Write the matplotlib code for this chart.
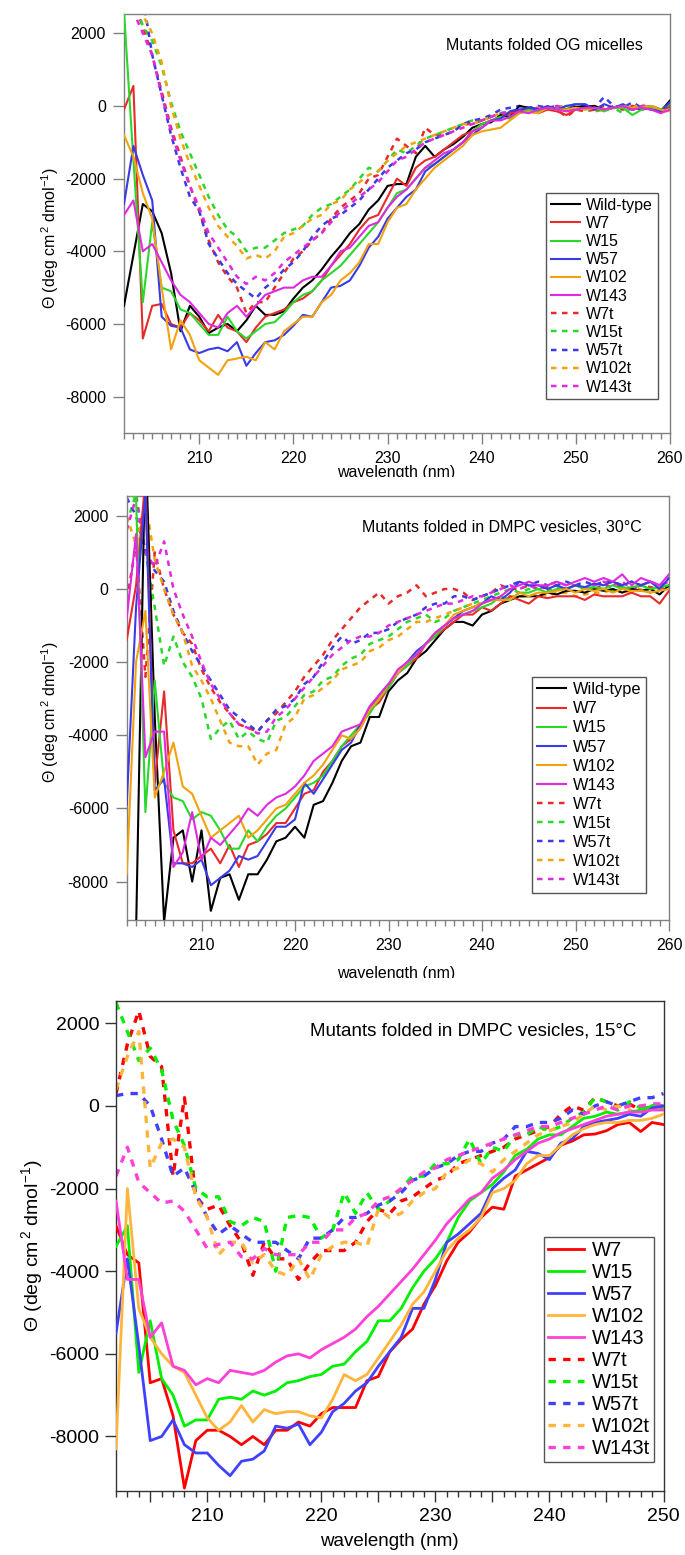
import matplotlib.pyplot as plt
import numpy as np
from matplotlib.patches import Rectangle
from matplotlib.ticker import MultipleLocator, FuncFormatter

plt.rcParams['font.family'] = ['Liberation Sans', 'DejaVu Sans']
plt.rcParams['mathtext.fontset'] = 'custom'
plt.rcParams['mathtext.rm'] = 'Liberation Sans'
plt.rcParams['mathtext.it'] = 'Liberation Sans:italic'
plt.rcParams['axes.unicode_minus'] = False

wl_a = np.arange(202, 261)   # panels 1 and 2
wl_b = np.arange(202, 251)   # panel 3

labels_a = ['Wild-type', 'W7', 'W15', 'W57', 'W102', 'W143',
            'W7t', 'W15t', 'W57t', 'W102t', 'W143t']
labels_b = labels_a[1:]

# ---- panel 1: OG micelles ----
og_wt = [-5500, -4100, -2700, -2900, -3500, -4600, -6200, -5500, -5800, -6250,
         -6100, -6000, -6200, -5900, -5500, -5750, -5750, -5650, -5300, -5000,
         -4800, -4500, -4150, -3850, -3500, -3250, -2850, -2600, -2200, -2150,
         -2150, -1400, -1100, -1400, -1200, -1050, -850, -600, -500, -450,
         -250, -300, 0, -50, -100, -50, -100, -100, -20, -20,
         0, -100, -50, -20, -50, -100, -50, -150, 150]
og_w7 = [-100, 550, -6400, -5500, -5450, -6000, -6100, -5700, -5900, -6200,
         -5750, -6100, -6200, -6500, -6100, -5800, -5700, -5600, -5400, -5300,
         -5100, -4800, -4400, -4100, -3800, -3400, -3100, -3000, -2500, -2000,
         -2200, -1700, -1500, -1400, -1200, -1000, -800, -700, -500, -400,
         -300, -200, -150, -100, -200, -100, -150, -250, -100, -50,
         -100, -100, -50, 0, -100, -50, -100, -150, 0]
og_w15 = [2600, -1500, -5400, -3200, -5000, -5100, -5600, -5700, -6000, -6300,
          -6300, -5800, -6200, -6400, -6200, -6000, -5950, -5700, -5400, -5200,
          -5100, -4800, -4600, -4400, -4100, -3800, -3500, -3200, -2800, -2400,
          -2300, -2000, -1700, -1600, -1400, -1200, -1000, -700, -500, -400,
          -300, -350, -200, -100, -150, -50, -100, -100, -50, -100,
          -50, -150, -50, -50, -250, -100, -50, -100, 50]
og_w57 = [-2700, -1100, -1900, -2600, -5800, -6050, -6100, -6700, -6800, -6700,
          -6650, -6750, -6500, -7150, -6800, -6500, -6450, -6300, -6050, -5750,
          -5800, -5400, -5000, -4950, -4800, -4400, -3900, -3600, -3100, -2800,
          -2500, -2300, -1800, -1600, -1400, -1200, -1000, -800, -600, -400,
          -350, -150, -100, -50, -100, 0, -100, 0, 50, 50,
          -100, 50, -50, 50, -100, -50, -100, -150, 100]
og_w102 = [-800, -1400, -2400, -3100, -5000, -6700, -5900, -6300, -7000, -7200,
           -7400, -7000, -6950, -6900, -7000, -6500, -6700, -6200, -6000, -5800,
           -5800, -5400, -5200, -4800, -4600, -4300, -3800, -3800, -3200, -2800,
           -2700, -2300, -2000, -1700, -1500, -1300, -1100, -800, -700, -650,
           -600, -400, -200, -150, -200, -50, -100, -100, -50, -100,
           -50, -100, -50, 0, -50, -50, 0, -100, -150]
og_w143 = [-3000, -2600, -4000, -3800, -4300, -4800, -5200, -5400, -5700, -6000,
           -6100, -5700, -5500, -5800, -5500, -5200, -5100, -5000, -5000, -4800,
           -4700, -4700, -4400, -4000, -3900, -3600, -3300, -3200, -2800, -2500,
           -2300, -2000, -1700, -1500, -1300, -1200, -1000, -700, -600, -400,
           -400, -300, -150, -200, -100, -50, -100, -150, -100, -50,
           -50, -100, -50, 0, -100, -50, -100, -200, -100]
og_w7t = [3500, 2800, 2200, 1400, 400, -600, -1400, -2200, -2900, -3700,
          -4300, -4700, -5000, -5700, -5400, -5400, -5000, -4600, -4200, -4000,
          -3700, -3500, -3100, -2800, -2600, -2400, -2000, -1900, -1400, -900,
          -1100, -1300, -600, -800, -800, -700, -500, -500, -400, -300,
          -300, -200, -150, -150, -200, -50, -100, -300, -100, -150,
          -100, 0, -50, -100, 0, -50, 0, -100, 0]
og_w15t = [3500, 3000, 2200, 1800, 1100, 100, -700, -1300, -1900, -2500,
           -3000, -3400, -3600, -4000, -3900, -3900, -3700, -3500, -3400, -3300,
           -3000, -2800, -2700, -2500, -2300, -2000, -1700, -1800, -1500, -1200,
           -1300, -1100, -900, -800, -700, -600, -500, -400, -400, -300,
           -200, -150, -100, -100, -50, -100, -50, 0, -100, -50,
           -150, -100, -50, -200, -50, -100, -50, -150, -50]
og_w57t = [4500, 4000, 3000, 1400, 300, -800, -1700, -2500, -2900, -3800,
           -4200, -4600, -4900, -5100, -5300, -5000, -4800, -4500, -4300, -4000,
           -3600, -3300, -3100, -3000, -2800, -2600, -2300, -2000, -1700, -1500,
           -1300, -1200, -1000, -900, -800, -700, -500, -400, -350, -250,
           -100, -50, 0, -50, 0, -50, 0, -50, 50, 0,
           -50, 250, 0, -50, 100, -50, 0, -100, 0]
og_w102t = [3500, 3000, 2500, 2000, 1200, 0, -900, -1600, -2200, -2800,
            -3300, -3600, -3850, -4200, -4100, -4200, -4000, -3600, -3500, -3300,
            -3100, -3000, -2700, -2600, -2300, -2100, -1900, -1800, -1500, -1300,
            -1100, -1000, -900, -800, -700, -600, -500, -500, -400, -300,
            -200, -200, -100, -100, -50, -100, 0, -50, -100, -50,
            0, -100, -50, 0, -50, 50, -100, -50, -200]
og_w143t = [3500, 2600, 2000, 1400, 300, -700, -1500, -2200, -2800, -3500,
            -3900, -4300, -4700, -4900, -4700, -4800, -4600, -4300, -4100, -3900,
            -3700, -3500, -3200, -2900, -2700, -2500, -2300, -2100, -1800, -1500,
            -1400, -1200, -1000, -900, -800, -700, -600, -500, -400, -300,
            -200, -150, -100, -100, -50, -50, 0, -100, -50, 0,
            -50, -100, 0, -50, -100, 0, -50, -150, -100]

# ---- panel 2: DMPC vesicles, 30 C ----
d30_wt = [-16000, -9400, 4000, -3500, -9100, -6800, -6600, -8000, -6600, -8800,
          -7900, -7800, -8500, -7800, -7800, -7400, -6900, -6800, -6500, -6800,
          -5900, -5800, -5300, -4700, -4300, -4200, -3500, -3500, -2800, -2500,
          -2300, -1900, -1700, -1400, -1100, -900, -900, -1000, -700, -600,
          -400, -300, -200, -200, -200, -100, -150, -50, -50, -100,
          0, -50, 0, -100, 0, -50, 0, -150, 100]
d30_w7 = [-1400, 100, 3000, -5300, -2800, -6600, -7500, -7500, -7300, -7100,
          -7500, -7000, -7600, -7000, -6900, -6700, -6400, -6400, -6000, -5600,
          -5500, -5000, -4700, -4300, -4100, -3800, -3300, -3100, -2700, -2300,
          -2100, -1900, -1500, -1300, -1100, -900, -700, -700, -500, -600,
          -400, -200, -300, -400, -200, -250, -200, -200, -200, -300,
          -150, -200, -200, -200, -100, -200, -200, -400, -50]
d30_w15 = [2600, 2500, -6100, -2500, -5300, -5700, -5800, -6300, -6100, -6200,
           -6600, -7100, -7100, -6600, -6900, -6500, -6200, -6000, -5700, -5400,
           -5300, -5100, -4700, -4300, -4000, -3700, -3400, -3000, -2700, -2300,
           -2100, -1800, -1500, -1300, -1000, -800, -700, -600, -500, -400,
           -200, -300, -100, -100, 0, -100, 0, 0, 100, 0,
           50, 0, 100, 0, 50, 100, 0, 50, 100]
d30_w57 = [-5900, -500, 2600, -5500, -5200, -7500, -7500, -7600, -7400, -8100,
           -7900, -7700, -7300, -7400, -7300, -6900, -6500, -6500, -6300, -5300,
           -5600, -5200, -4800, -4400, -4200, -3700, -3300, -2900, -2600, -2300,
           -2000, -1700, -1500, -1200, -1000, -800, -600, -500, -400, -200,
           -300, -100, 200, 100, 100, 0, 100, 0, 100, 50,
           150, 100, 200, 100, 200, 100, 200, 0, 300]
d30_w102 = [-7800, -2000, -600, -5700, -5000, -4200, -5400, -5600, -6200, -6800,
            -6600, -6400, -6200, -6800, -6600, -6300, -6000, -5900, -5600, -5300,
            -5100, -4800, -4400, -4000, -4100, -3800, -3300, -3000, -2600, -2300,
            -2000, -1800, -1500, -1200, -1000, -700, -600, -500, -400, -300,
            -300, -300, -100, -200, -100, -100, -50, 0, -100, 0,
            -50, 0, -100, 0, -50, -50, -100, -50, 0]
d30_w143 = [-800, 1500, -4600, -3900, -3900, -7600, -7200, -6100, -7400, -6800,
            -7000, -6700, -6400, -6000, -6200, -5900, -5700, -5600, -5400, -5100,
            -4700, -4500, -4300, -3900, -3800, -3700, -3200, -2900, -2600, -2200,
            -2000, -1800, -1500, -1200, -1000, -800, -700, -600, -400, -300,
            -200, 0, 100, 200, 100, 100, 200, 100, 200, 300,
            200, 300, 200, 400, 100, 300, 200, 100, 400]
d30_w7t = [-300, 1200, -2400, 1000, 0, -700, -1200, -1500, -2200, -2700,
           -3100, -3400, -3700, -3800, -3900, -3600, -3400, -3100, -2800, -2400,
           -2100, -1800, -1400, -1100, -800, -500, -300, -100, -400, -200,
           -100, 100, -200, -100, 0, 0, -100, -300, -200, -100,
           100, 0, 0, 100, 0, 50, 100, 0, 100, 50,
           0, 100, 50, 100, 0, 100, 50, 0, 100]
d30_w15t = [1800, 2600, 1000, -500, -2100, -1300, -2000, -2400, -3000, -4100,
            -3800, -3600, -4100, -3900, -4100, -4200, -3600, -3500, -3200, -2900,
            -2800, -2500, -2400, -2100, -1900, -1800, -1500, -1400, -1300, -1100,
            -900, -800, -700, -900, -800, -600, -500, -400, -300, -200,
            -100, 0, -100, 0, 0, -50, 50, 0, 100, 0,
            50, 0, -50, 50, 0, 100, 0, 50, 100]
d30_w57t = [2500, 2000, 1000, 500, 200, -600, -1200, -1700, -2100, -2500,
            -2900, -3300, -3500, -3700, -3900, -3600, -3300, -3200, -3000, -2600,
            -2400, -2000, -1600, -1300, -1500, -1400, -1200, -1200, -1100, -900,
            -800, -700, -500, -400, -400, -200, -200, -300, -200, -100,
            0, 100, 200, 100, 200, 100, 100, 200, 100, 200,
            100, 200, 200, 100, 200, 100, 200, 100, 300]
d30_w102t = [2000, 1200, 2400, 800, 0, -700, -1200, -2100, -2500, -3000,
             -3600, -4200, -4300, -4300, -4800, -4500, -4400, -3700, -3500, -3000,
             -2900, -2700, -2500, -2200, -2100, -2000, -1700, -1600, -1400, -1300,
             -1100, -900, -900, -800, -700, -600, -500, -400, -400, -300,
             -300, -200, -200, -200, -100, -200, -100, -100, -200, -150,
             -100, -100, 0, -100, -50, 0, -100, 0, 50]
d30_w143t = [1600, 2500, 1000, 600, 1300, 0, -700, -1300, -2000, -2600,
             -3000, -3400, -3700, -3800, -3950, -3900, -3500, -3300, -3000, -2700,
             -2400, -2100, -1800, -1600, -1400, -1300, -1300, -1200, -1000, -900,
             -800, -700, -600, -500, -400, -400, -300, -200, -200, -100,
             0, 100, 0, 100, 0, 100, 200, 100, 100, 0,
             100, 200, 100, 200, 0, 100, 200, 100, 200]

# ---- panel 3: DMPC vesicles, 15 C ----
d15_w7 = [-2900, -3600, -3800, -6700, -6600, -7500, -9250, -8100, -7850, -7850,
          -8000, -8200, -8000, -8200, -7850, -7850, -7650, -7750, -7450, -7300,
          -7300, -7300, -6650, -6550, -5950, -5650, -5400, -4800, -4350, -3750,
          -3300, -3050, -2700, -2450, -2500, -1700, -1550, -1400, -1250, -950,
          -850, -700, -680, -600, -450, -400, -620, -400, -450]
d15_w15 = [-3400, -2900, -6450, -5200, -6600, -7000, -7750, -7600, -7600, -7100,
           -7050, -7100, -6900, -7000, -6900, -6700, -6650, -6550, -6500, -6300,
           -6250, -5950, -5700, -5200, -5200, -4900, -4400, -4000, -3700, -3300,
           -2700, -2300, -2100, -1900, -1600, -1200, -1050, -800, -700, -700,
           -500, -300, -250, -150, -200, -150, -100, 0, -50]
d15_w57 = [-5500, -3700, -5800, -8100, -8000, -7600, -8200, -8400, -8400, -8700,
           -8950, -8600, -8550, -8350, -7750, -7800, -7700, -8200, -7900, -7400,
           -7200, -6900, -6700, -6300, -5950, -5600, -4900, -4900, -4200, -3300,
           -3100, -2850, -2600, -2000, -1750, -1550, -1100, -1150, -1300, -900,
           -800, -500, -400, -350, -300, -200, -250, -50, 0]
d15_w102 = [-8300, -2000, -4900, -5600, -6000, -6300, -6450, -7000, -7550, -7850,
            -7650, -7250, -7650, -7350, -7450, -7400, -7400, -7500, -7550, -7100,
            -6500, -6650, -6500, -6100, -5700, -5300, -4800, -4500, -4000, -3500,
            -3200, -3000, -2700, -2100, -2000, -1800, -1400, -1200, -1200, -950,
            -700, -550, -450, -400, -400, -350, -350, -300, -200]
d15_w143 = [-2300, -4200, -4200, -5600, -5250, -6300, -6400, -6750, -6600, -6700,
            -6400, -6450, -6500, -6400, -6200, -6050, -6000, -6100, -5900, -5750,
            -5600, -5400, -5100, -4850, -4550, -4250, -3950, -3600, -3250, -2850,
            -2550, -2250, -2100, -1750, -1550, -1300, -1100, -900, -800, -650,
            -550, -450, -350, -250, -200, -150, -150, -100, -100]
d15_w7t = [300, 1500, 2300, 1200, 950, -1700, 200, -2200, -2500, -2400,
           -2900, -3300, -4100, -3300, -3700, -3700, -4200, -3800, -3500, -3500,
           -3500, -3300, -2800, -2500, -2600, -2300, -2200, -2000, -1800, -1700,
           -1400, -1300, -1200, -1100, -1000, -800, -700, -600, -500, -200,
           0, -100, 200, 100, 0, 50, -100, 0, 0]
d15_w15t = [2500, 1800, 1100, 1400, 870, -340, -960, -2000, -2200, -2200,
            -2800, -2900, -2700, -2800, -4000, -2700, -2650, -2700, -3200, -3000,
            -2100, -2600, -2100, -2500, -2300, -2000, -1700, -1700, -1400, -1400,
            -1300, -800, -1400, -1000, -1100, -700, -700, -500, -600, -500,
            -300, -150, 200, 100, -100, 100, -50, 0, 0]
d15_w57t = [250, 300, 300, 0, -800, -1700, -1500, -2100, -2700, -3100,
            -2900, -3100, -3300, -3300, -3300, -3500, -3700, -3200, -3200, -3000,
            -2700, -2700, -2600, -2400, -2300, -2100, -1800, -1700, -1500, -1400,
            -1200, -1100, -1100, -900, -800, -500, -500, -400, -400, -300,
            -100, -200, 0, 100, 0, 100, 200, 200, 300]
d15_w102t = [400, 1200, 1800, -1500, -900, -800, -1000, -2200, -2700, -3600,
             -3300, -3300, -3800, -3600, -4000, -4100, -3700, -4200, -3600, -3400,
             -3300, -3300, -3400, -2500, -2700, -2600, -2300, -2100, -2000, -1600,
             -1500, -1300, -1400, -1600, -1300, -1100, -900, -700, -600, -500,
             -400, -200, 0, -100, 0, -100, -200, -50, 0]
d15_w143t = [-1700, -1000, -1850, -2100, -2350, -2300, -2550, -3000, -3450, -3350,
             -3300, -3650, -3700, -3450, -3600, -3600, -3600, -3300, -3300, -3000,
             -3000, -2700, -2600, -2300, -2200, -2000, -1800, -1600, -1500, -1300,
             -1200, -1100, -1000, -900, -800, -700, -600, -500, -500, -400,
             -300, -200, -100, 0, -100, 0, 0, 50, 50]

cols_a = ['black', '#e82a2a', '#2ad82a', '#3a3ae8', '#f2a20c', '#e02ae0']
cols_b = ['#ff0000', '#00f000', '#4040ff', '#ffb43c', '#ff40d8']

W, H = 685, 1555
fig = plt.figure(figsize=(W / 100, H / 100), dpi=100)
ylab = 'Θ (deg cm$^{\\,2}$ dmol$^{-1}$)'


def panel(rect, wl, data, labels, cols, ylim, xlim, title, fs, lw, spine,
          leg_xy, leg_kw, step5, tick_fs):
    l, t, r, b = rect
    ax = fig.add_axes([l / W, 1 - b / H, (r - l) / W, (b - t) / H])
    n_solid = len(cols)
    handles = []
    for i, (lab, y) in enumerate(zip(labels, data)):
        if i < n_solid:
            c, ls, z, w = cols[i], '-', 3, lw
        else:
            c, ls, z, w = cols[i - n_solid + (len(cols) - 5)], (0, (2.2, 2.2)), 2, lw * 1.2
        h, = ax.plot(wl, y, color=c, lw=w, ls=ls, zorder=z, label=lab)
        handles.append(h)
    ax.set_xlim(*xlim)
    ax.set_ylim(*ylim)
    ax.set_yticks([2000, 0, -2000, -4000, -6000, -8000])
    if step5:
        ax.xaxis.set_major_locator(MultipleLocator(5))
        ax.xaxis.set_major_formatter(
            FuncFormatter(lambda v, p: '%d' % v if v % 10 == 0 else ''))
    else:
        ax.xaxis.set_major_locator(MultipleLocator(10))
    ax.xaxis.set_minor_locator(MultipleLocator(1))
    for s in ax.spines.values():
        s.set_color(spine)
        s.set_linewidth(1.0)
    ax.tick_params(axis='both', which='major', direction='out', color=spine,
                   length=8, width=1, labelsize=tick_fs, pad=leg_kw.pop('pad'))
    ax.tick_params(axis='x', which='minor', direction='out', color=spine,
                   length=4.5, width=1)
    ax.tick_params(top=False, right=False)
    ax.text(0.95, 0.925 if not step5 else 0.938, title, transform=ax.transAxes,
            ha='right', va='center', fontsize=fs)
    leg = ax.legend(handles=handles, loc='upper left', bbox_to_anchor=leg_xy,
                    borderaxespad=0, fancybox=False, framealpha=1,
                    edgecolor='#555555', fontsize=fs + leg_kw.pop('dfs', 0),
                    **leg_kw)
    leg.get_frame().set_linewidth(1.0)
    return ax


a1 = panel((124, 14, 670, 433), wl_a,
           [og_wt, og_w7, og_w15, og_w57, og_w102, og_w143,
            og_w7t, og_w15t, og_w57t, og_w102t, og_w143t],
           labels_a, cols_a, (-9000, 2530), (202, 260),
           'Mutants folded OG micelles', 11.5, 1.5, '#808080', (0.773, 0.573),
           dict(pad=5, labelspacing=0.2, handlelength=1.8, handletextpad=0.4,
                borderpad=0.3), False, 11.5)
a2 = panel((126.7, 495.7, 669, 920), wl_a,
           [d30_wt, d30_w7, d30_w15, d30_w57, d30_w102, d30_w143,
            d30_w7t, d30_w15t, d30_w57t, d30_w102t, d30_w143t],
           labels_a, cols_a, (-9050, 2550), (202, 260),
           'Mutants folded in DMPC vesicles, 30°C', 11.5, 1.5, '#808080',
           (0.747, 0.572),
           dict(pad=5, labelspacing=0.25, handlelength=1.8, handletextpad=0.4,
                borderpad=0.3, dfs=0.3), False, 11.5)
a3 = panel((116, 1001, 663.5, 1491), wl_b,
           [d15_w7, d15_w15, d15_w57, d15_w102, d15_w143,
            d15_w7t, d15_w15t, d15_w57t, d15_w102t, d15_w143t],
           labels_b, cols_b, (-9320, 2540), (202, 250),
           'Mutants folded in DMPC vesicles, 15°C', 13.5, 2.0, '#333333',
           (0.782, 0.518),
           dict(pad=4, labelspacing=0.15, handlelength=1.8, handletextpad=0.35,
                borderpad=0.2, dfs=1.0), True, 14)

# axis titles placed as figure text
fig.text(50 / W, 1 - 238 / H, ylab, rotation=90, ha='center', va='center', fontsize=11.5)
fig.text(50 / W, 1 - 712 / H, ylab, rotation=90, ha='center', va='center', fontsize=11.5)
fig.text(32 / W, 1 - 1246 / H, ylab, rotation=90, ha='center', va='center', fontsize=14)
fig.text(396 / W, 1 - 473 / H, 'wavelength (nm)', ha='center', va='center', fontsize=11.5)
fig.text(396 / W, 1 - 973 / H, 'wavelength (nm)', ha='center', va='center', fontsize=11.5)
fig.text(389 / W, 1 - 1541 / H, 'wavelength (nm)', ha='center', va='center', fontsize=13.5)

# the stacked source images cut the lower half of the first two x titles
fig.add_artist(Rectangle((0, 1 - 494 / H), 1, 17 / H, transform=fig.transFigure,
                         facecolor='white', edgecolor='none', zorder=10))
fig.add_artist(Rectangle((0, 1 - 996 / H), 1, 18 / H, transform=fig.transFigure,
                         facecolor='white', edgecolor='none', zorder=10))

fig.savefig('out.png', dpi=100)
